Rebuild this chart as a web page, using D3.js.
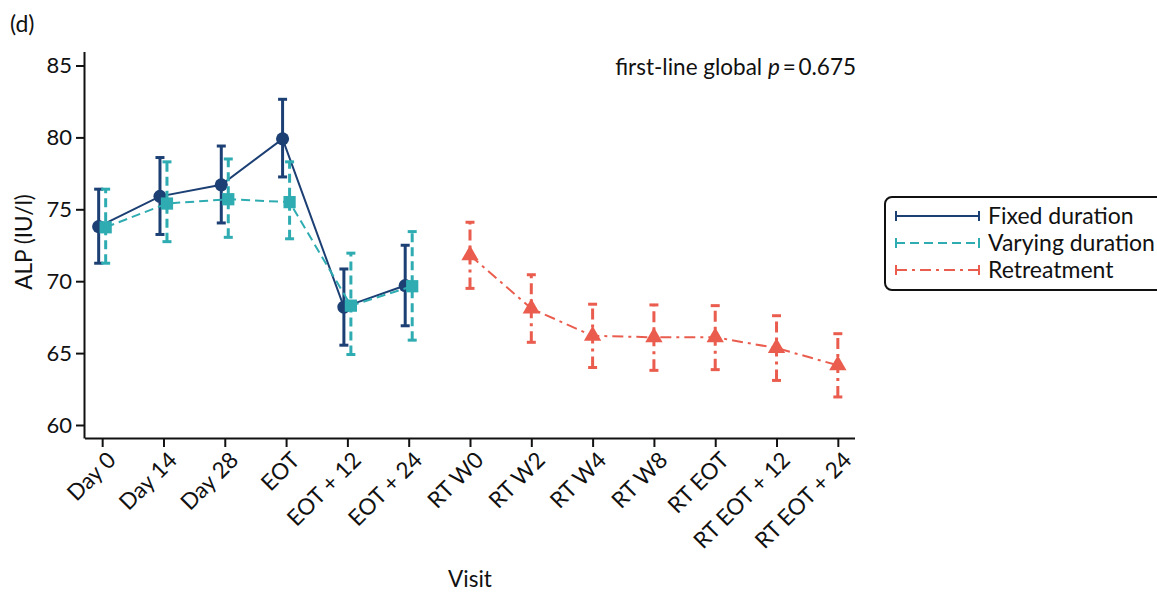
<!DOCTYPE html>
<html>
<head>
<meta charset="utf-8">
<script src="https://cdn.jsdelivr.net/npm/d3@7"></script>
<style>
  body { margin: 0; background: #fff; }
  text { font-family: Lato, "Open Sans", sans-serif; fill: #111; }
</style>
</head>
<body>
<div id="chart"></div>
<script>
// visits on the x axis
var visits = ["Day 0", "Day 14", "Day 28", "EOT", "EOT + 12", "EOT + 24",
  "RT W0", "RT W2", "RT W4", "RT W8", "RT EOT", "RT EOT + 12", "RT EOT + 24"];

// fixed duration (first-line)
var fixedMean = [73.8, 75.9, 76.7, 79.9, 68.2, 69.7];
var fixedLow  = [71.25, 73.25, 74.05, 77.25, 65.55, 66.9];
var fixedHigh = [76.4, 78.6, 79.4, 82.65, 70.85, 72.5];

// varying duration (first-line)
var varyMean = [73.75, 75.4, 75.7, 75.5, 68.3, 69.65];
var varyLow  = [71.25, 72.75, 73.05, 72.95, 64.9, 65.9];
var varyHigh = [76.4, 78.3, 78.5, 78.3, 71.95, 73.45];

// retreatment
var rtMean = [71.8, 68.1, 66.2, 66.1, 66.1, 65.35, 64.15];
var rtLow  = [69.5, 65.75, 64.0, 63.8, 63.85, 63.1, 61.95];
var rtHigh = [74.1, 70.45, 68.4, 68.35, 68.3, 67.6, 66.35];

var yTicks = [60, 65, 70, 75, 80, 85];

var W = 1157, H = 592;
var svg = d3.select("#chart").append("svg")
    .attr("width", W).attr("height", H);

var x = d3.scalePoint().domain(visits).range([85, 855]).padding(0.28),
    y = d3.scaleLinear().domain([60, 85]).range([425, 65.5]);

function series(names, mean, low, high, offset) {
  return names.map(function(v, i) {
    return {visit: v, x: x(v) + offset, m: mean[i], lo: low[i], hi: high[i]};
  });
}
var groups = [
  {name: "Fixed duration", color: "#1c3f74", dash: null,
   data: series(visits.slice(0, 6), fixedMean, fixedLow, fixedHigh, -3.5), shape: "circle"},
  {name: "Varying duration", color: "#2eacb1", dash: "9,5",
   data: series(visits.slice(0, 6), varyMean, varyLow, varyHigh, 3.5), shape: "square"},
  {name: "Retreatment", color: "#ea5d4e", dash: "11,5,3,5",
   data: series(visits.slice(6), rtMean, rtLow, rtHigh, 0), shape: "triangle"}
];

// axes
var yAxis = svg.append("g")
    .attr("transform", "translate(85,0)")
    .call(d3.axisLeft(y).tickValues(yTicks).tickSize(9).tickPadding(4));
yAxis.select(".domain").attr("d", "M-0.5,52V438.5");
var xAxis = svg.append("g")
    .attr("transform", "translate(0,438)")
    .call(d3.axisBottom(x).tickSize(9).tickSizeOuter(0));
xAxis.select(".domain").attr("d", "M85,0.5H855");
svg.selectAll(".domain, .tick line").attr("stroke", "#111").attr("stroke-width", 2);
yAxis.selectAll("text").style("font-size", "22px");
xAxis.selectAll("text")
    .style("font-size", "22.5px")
    .attr("text-anchor", "end")
    .attr("transform", "translate(9,18) rotate(-45)")
    .attr("dy", "0.35em").attr("y", 0).attr("x", 0);

var line = d3.line().x(function(d) { return d.x; }).y(function(d) { return y(d.m); });

groups.forEach(function(gr) {
  var g = svg.append("g");
  // error bars
  var eb = g.selectAll(".eb").data(gr.data).enter().append("g");
  eb.append("line")
      .attr("x1", function(d) { return d.x; }).attr("x2", function(d) { return d.x; })
      .attr("y1", function(d) { return y(d.lo); }).attr("y2", function(d) { return y(d.hi); })
      .attr("stroke", gr.color).attr("stroke-width", 3)
      .attr("stroke-dasharray", gr.dash);
  ["lo", "hi"].forEach(function(k) {
    eb.append("line")
        .attr("x1", function(d) { return d.x - 4.5; }).attr("x2", function(d) { return d.x + 4.5; })
        .attr("y1", function(d) { return y(d[k]); }).attr("y2", function(d) { return y(d[k]); })
        .attr("stroke", gr.color).attr("stroke-width", 3);
  });
  // connecting line
  g.append("path").datum(gr.data)
      .attr("d", line).attr("fill", "none")
      .attr("stroke", gr.color).attr("stroke-width", 2)
      .attr("stroke-dasharray", gr.dash);
  // markers
  var sym = gr.shape === "circle" ? d3.symbolCircle : gr.shape === "square" ? d3.symbolSquare : d3.symbolTriangle;
  var size = gr.shape === "circle" ? 135 : gr.shape === "square" ? 150 : 130;
  g.selectAll(".pt").data(gr.data).enter().append("path")
      .attr("transform", function(d) { return "translate(" + d.x + "," + y(d.m) + ")"; })
      .attr("d", d3.symbol().type(sym).size(size))
      .attr("fill", gr.color);
});

// texts
svg.append("text").attr("x", 10).attr("y", 32).style("font-size", "23px").text("(d)");
svg.append("text")
    .attr("transform", "translate(32,242) rotate(-90)")
    .attr("text-anchor", "middle").style("font-size", "22.5px").text("ALP (IU/l)");
svg.append("text").attr("x", 470).attr("y", 587)
    .attr("text-anchor", "middle").style("font-size", "22.5px").text("Visit");
var ann = svg.append("text").attr("x", 856).attr("y", 75)
    .attr("text-anchor", "end").style("font-size", "22.5px");
ann.append("tspan").text("first-line global ");
ann.append("tspan").style("font-style", "italic").text("p");
ann.append("tspan").text("\u2009=\u20090.675");

// legend
var lg = svg.append("g");
lg.append("rect").attr("x", 885).attr("y", 197).attr("width", 290).attr("height", 93)
    .attr("rx", 7).attr("fill", "#fff").attr("stroke", "#111").attr("stroke-width", 2);
groups.forEach(function(gr, i) {
  var yy = 216 + i * 27;
  lg.append("line").attr("x1", 896).attr("x2", 979).attr("y1", yy).attr("y2", yy)
      .attr("stroke", gr.color).attr("stroke-width", 2).attr("stroke-dasharray", gr.dash);
  [896, 979].forEach(function(xx) {
    lg.append("line").attr("x1", xx).attr("x2", xx).attr("y1", yy - 5).attr("y2", yy + 5)
        .attr("stroke", gr.color).attr("stroke-width", 2);
  });
  lg.append("text").attr("x", 988).attr("y", yy).attr("dy", "0.35em")
      .style("font-size", "23px").text(gr.name);
});
</script>
</body>
</html>
